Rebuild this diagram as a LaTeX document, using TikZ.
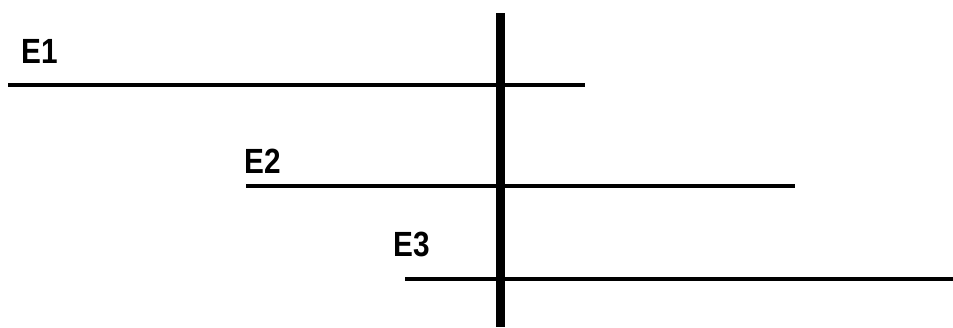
\documentclass[tikz,border=0pt]{standalone}
\usepackage{fontspec}
\setmainfont{Liberation Sans}
\newfontfamily\labfont[FakeStretch=0.85]{Liberation Sans}
\begin{document}
\begin{tikzpicture}[x=1pt,y=-1pt,
  hline/.style={line width=3.6pt},
  vline/.style={line width=9pt},
  lab/.style={inner sep=0pt,anchor=base west,font=\labfont\bfseries\fontsize{35}{40}\selectfont}]
\useasboundingbox (0,0) rectangle (953,327);
\node[lab] (e1) at (21,63) {E1};
\node[lab] (e2) at (244,173) {E2};
\node[lab] (e3) at (393,256) {E3};
\coordinate (a1) at (8,85);
\coordinate (b1) at (585,85);
\coordinate (a2) at (246,186);
\coordinate (b2) at (795,186);
\coordinate (a3) at (405,279);
\coordinate (b3) at (953,279);
\coordinate (vt) at (500.5,13);
\coordinate (vb) at (500.5,327);
\draw[hline] (a1) -- (b1);
\draw[hline] (a2) -- (b2);
\draw[hline] (a3) -- (b3);
\draw[vline] (vt) -- (vb);
\end{tikzpicture}
\end{document}
